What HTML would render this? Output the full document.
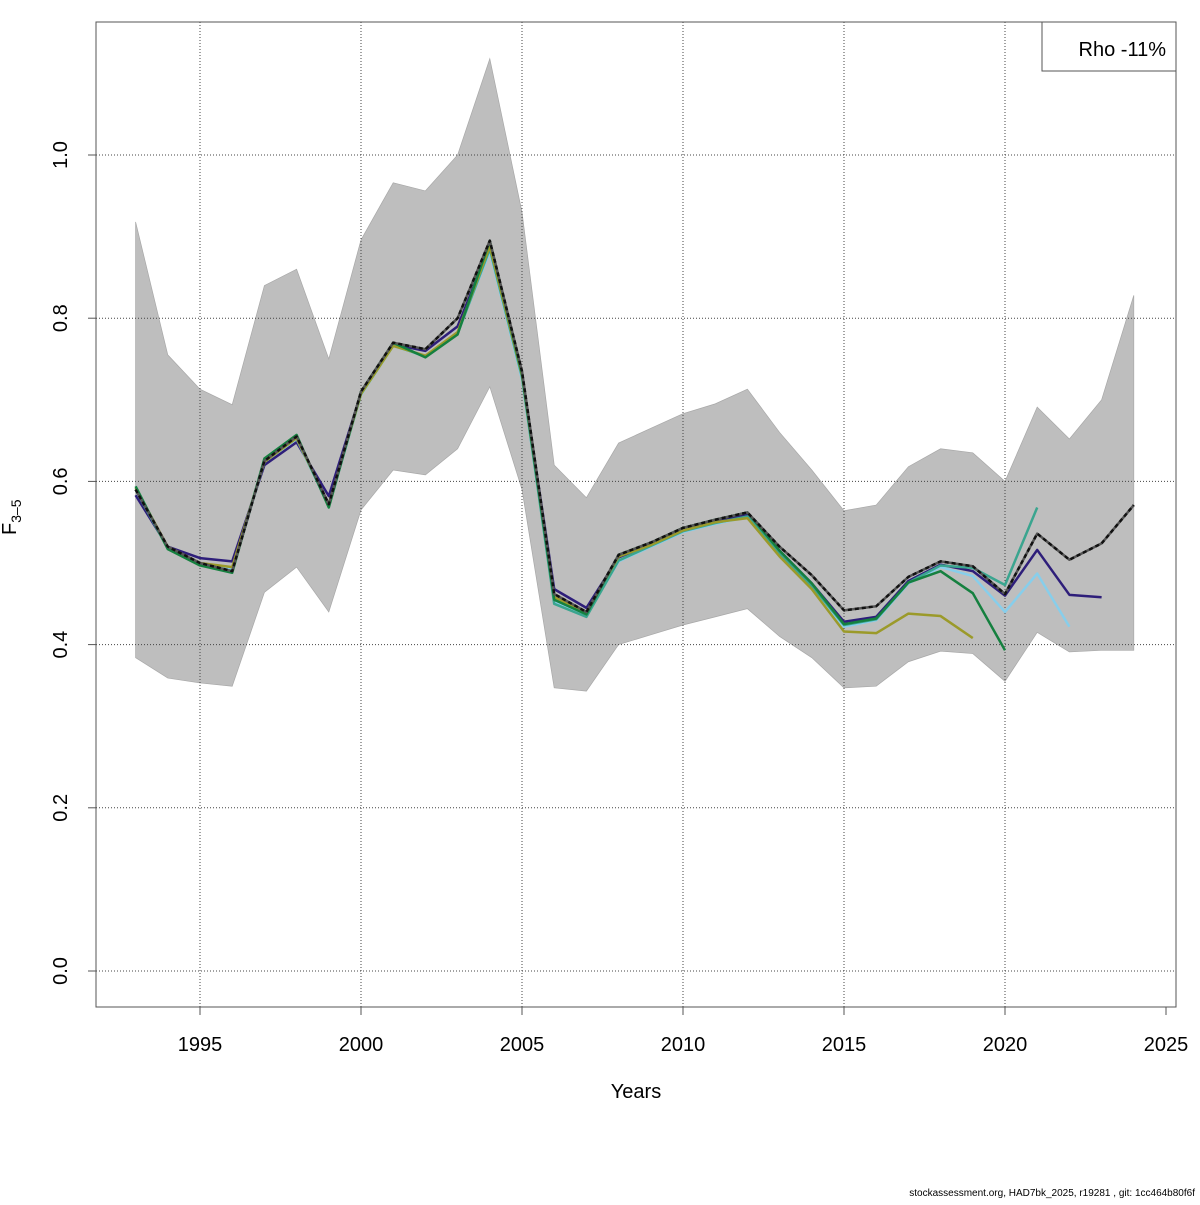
<!DOCTYPE html>
<html><head><meta charset="utf-8"><style>
body{margin:0;background:#fff;}
svg text{font-family:"Liberation Sans",sans-serif;}
</style></head><body>
<svg id="chart" width="1200" height="1200" xmlns="http://www.w3.org/2000/svg"></svg>
<script>
const years=[1993,1994,1995,1996,1997,1998,1999,2000,2001,2002,2003,2004,2005,2006,2007,2008,2009,2010,2011,2012,2013,2014,2015,2016,2017,2018,2019,2020,2021,2022,2023,2024];
const upper=[0.918,0.755,0.713,0.694,0.84,0.86,0.75,0.896,0.966,0.956,1.0,1.118,0.93,0.62,0.58,0.647,0.665,0.683,0.695,0.713,0.66,0.614,0.564,0.571,0.618,0.64,0.635,0.6,0.691,0.652,0.70,0.828];
const lower=[0.384,0.359,0.353,0.349,0.464,0.495,0.44,0.565,0.614,0.608,0.64,0.716,0.59,0.347,0.343,0.4,0.412,0.424,0.434,0.444,0.41,0.384,0.347,0.349,0.379,0.392,0.389,0.355,0.415,0.391,0.393,0.393];
const base=[0.59,0.52,0.50,0.49,0.625,0.655,0.572,0.71,0.77,0.762,0.80,0.895,0.735,0.462,0.44,0.51,0.525,0.543,0.553,0.562,0.52,0.485,0.442,0.447,0.483,0.502,0.496,0.462,0.536,0.504,0.524,0.571];
const peel1=[0.583,0.52,0.506,0.502,0.62,0.648,0.582,0.708,0.768,0.76,0.79,0.888,0.73,0.468,0.445,0.507,0.523,0.541,0.551,0.56,0.515,0.475,0.428,0.434,0.478,0.498,0.49,0.46,0.516,0.461,0.458];
const peel2=[0.59,0.518,0.5,0.492,0.624,0.652,0.57,0.706,0.766,0.753,0.782,0.882,0.725,0.452,0.436,0.502,0.52,0.538,0.548,0.556,0.51,0.47,0.422,0.43,0.475,0.495,0.484,0.44,0.487,0.422];
const peel3=[0.59,0.518,0.498,0.49,0.625,0.653,0.57,0.707,0.767,0.753,0.781,0.885,0.728,0.45,0.434,0.503,0.521,0.539,0.549,0.557,0.512,0.472,0.424,0.431,0.476,0.497,0.494,0.473,0.568];
const peel4=[0.594,0.517,0.497,0.488,0.628,0.657,0.568,0.71,0.77,0.752,0.78,0.895,0.732,0.455,0.437,0.51,0.525,0.543,0.553,0.562,0.515,0.475,0.425,0.432,0.476,0.49,0.463,0.393];
const peel5=[0.592,0.52,0.5,0.495,0.624,0.653,0.572,0.707,0.766,0.754,0.783,0.888,0.73,0.458,0.44,0.508,0.522,0.54,0.55,0.555,0.508,0.468,0.416,0.414,0.438,0.435,0.408];
const xTicks=[1995,2000,2005,2010,2015,2020,2025];
const yTicks=[0.0,0.2,0.4,0.6,0.8,1.0];
const NS="http://www.w3.org/2000/svg";
const svg=document.getElementById('chart');
const X=y=>200+(y-1995)*32.2;
const Y=v=>971-v*816;
function mk(t,a,p){const e=document.createElementNS(NS,t);for(const k in a)e.setAttribute(k,a[k]);(p||svg).appendChild(e);return e;}
const band=mk('polygon',{fill:'#bebebe',stroke:'#a8a8a8','stroke-width':0.7,points:years.map((y,i)=>X(y)+','+Y(upper[i])).concat(years.map((y,i)=>X(y)+','+Y(lower[i])).reverse()).join(' ')});


xTicks.forEach(t=>{if(t<2025){const g=mk('line',{x1:X(t),x2:X(t),y1:22,y2:1007,stroke:'#444','stroke-width':1,'stroke-dasharray':'1,2'});

}});
yTicks.forEach(t=>{const g=mk('line',{x1:96,x2:1176,y1:Y(t),y2:Y(t),stroke:'#444','stroke-width':1,'stroke-dasharray':'1,2'});

});
function series(vals,color,name,w){const p=mk('polyline',{fill:'none',stroke:color,'stroke-width':w||2.5,'stroke-linejoin':'round',points:vals.map((v,i)=>X(years[i])+','+Y(v)).join(' ')});

return p;}
series(peel1,'#2e1e7a','peel-2023-line');
series(peel2,'#87ceeb','peel-2022-line');
series(peel3,'#3aa58f','peel-2021-line');
series(peel5,'#9b9a2a','peel-2019-line');
series(peel4,'#15803f','peel-2020-line');
series(base,'#555','base-run-line',2.5);
const d=series(base,'#111','base-run-dash',2.5);d.setAttribute('stroke-dasharray','4,3');
const frame=mk('rect',{x:96,y:22,width:1080,height:985,fill:'none',stroke:'#555','stroke-width':1});


xTicks.forEach(t=>{mk('line',{x1:X(t),x2:X(t),y1:1007,y2:1015,stroke:'#555'});
const tx=mk('text',{x:X(t),y:1051,'font-size':20,'text-anchor':'middle',fill:'#000'});tx.textContent=t;

});
yTicks.forEach(t=>{mk('line',{x1:88,x2:96,y1:Y(t),y2:Y(t),stroke:'#555'});
const tx=mk('text',{x:0,y:0,'font-size':20,'text-anchor':'middle',fill:'#000',transform:`translate(67,${Y(t)}) rotate(-90)`});tx.textContent=t.toFixed(1);

});
</script>
<svg style="position:absolute;left:0;top:0" width="1200" height="1200" xmlns="http://www.w3.org/2000/svg">
<text x="636" y="1098" font-size="20" text-anchor="middle">Years</text>
<text transform="translate(16,535) rotate(-90)" font-size="20">F<tspan font-size="14" dy="5">3–5</tspan></text>
<rect x="1042" y="22" width="134" height="49" fill="#fff" stroke="#555"/>
<text x="1166" y="56" font-size="20" text-anchor="end">Rho -11%</text>
<text x="1195" y="1196" font-size="10" text-anchor="end">stockassessment.org, HAD7bk_2025, r19281 , git: 1cc464b80f6f</text>
</svg>
</body></html>
